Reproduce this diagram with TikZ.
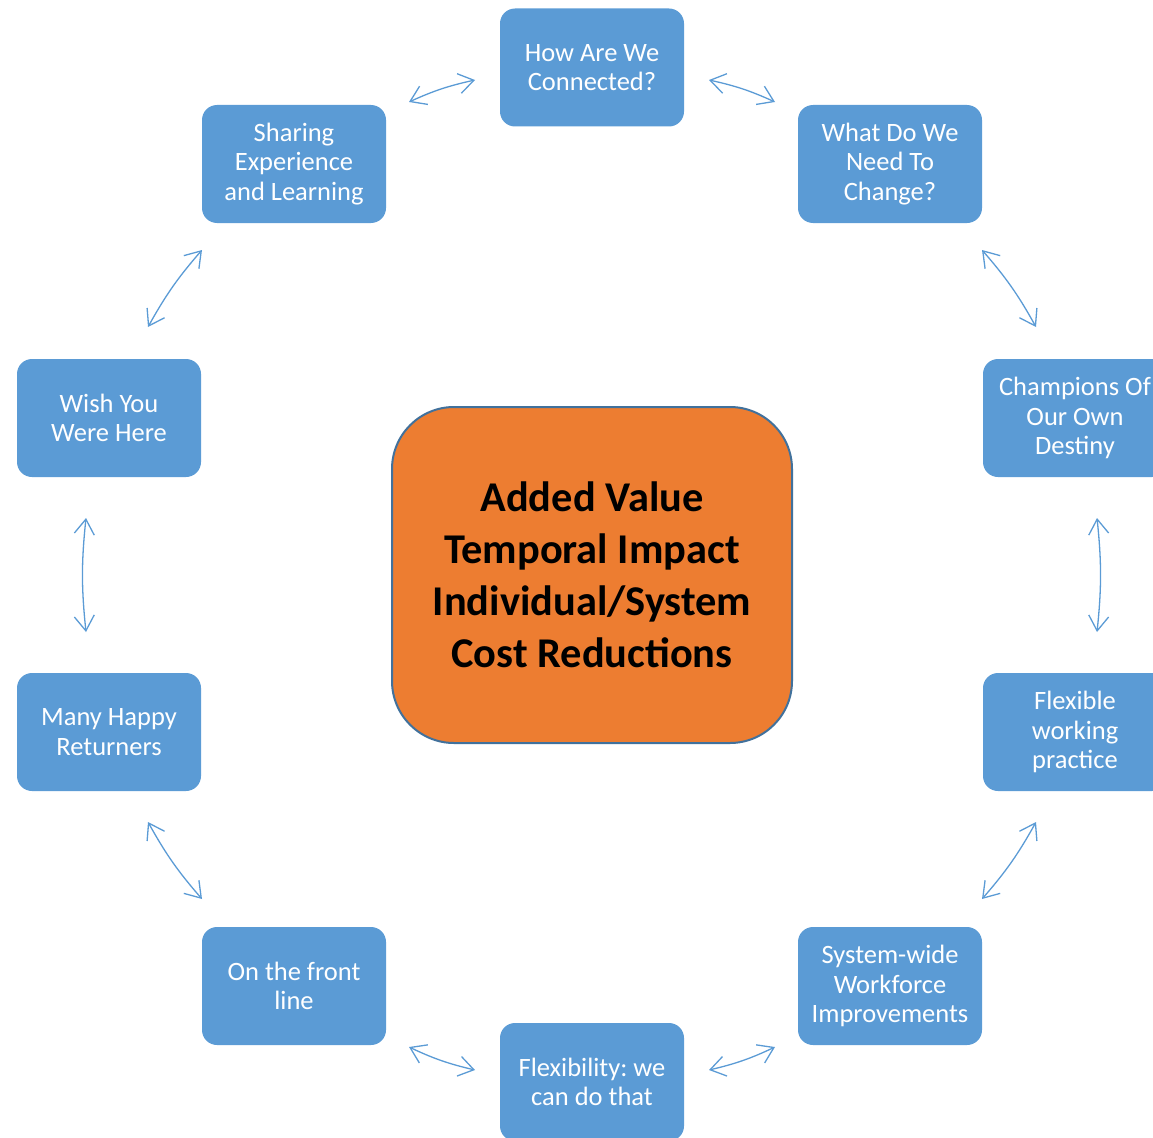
\documentclass[tikz,border=0pt]{standalone}
\usepackage{fontspec}
\setmainfont{Carlito}
\frenchspacing
\usetikzlibrary{arrows.meta}
\definecolor{boxblue}{HTML}{5B9BD5}
\definecolor{hub}{HTML}{ED7D31}
\definecolor{hubedge}{HTML}{41719C}
\begin{document}
\begin{tikzpicture}[x=1pt,y=-1pt,
  stage/.style={fill=boxblue, rounded corners=15pt, minimum width=184pt,
    minimum height=118pt, text=white, align=center, inner sep=0pt,
    font=\fontsize{26.5}{29.5}\selectfont},
  hubbox/.style={fill=hub, draw=hubedge, line width=2pt, rounded corners=62pt,
    minimum width=400pt, minimum height=336pt, align=center, inner sep=0pt,
    font=\fontsize{42.4}{52}\selectfont\bfseries},
  barb/.tip={Straight Barb[length=15pt,width=20pt]},
  link/.style={draw=boxblue, line width=1.3pt, barb-barb, bend left=6}
]
\useasboundingbox (0,0) rectangle (1153,1137);
\clip (0,0) rectangle (1153,1137);

% outer ring of stages
\node[stage] (how)   at (592,67.5) {How Are We\\Connected?};
\node[stage] (share) at (294,164)  {Sharing\\Experience\\and Learning};
\node[stage] (what)  at (890,164)  {What Do We\\Need To\\Change?};
\node[stage] (wish)  at (109,418)  {Wish You\\Were Here};
\node[stage] (champ) at (1075,418) {Champions Of\\Our Own\\Destiny};
\node[stage] (many)  at (109,732)  {Many Happy\\Returners};
\node[stage] (flexw) at (1075,732) {Flexible\\working\\practice};
\node[stage] (front) at (294,986)  {On the front\\line};
\node[stage] (sys)   at (890,986)  {System-wide\\Workforce\\Improvements};
\node[stage] (flexd) at (592,1082) {Flexibility: we\\can do that};

% central hub
\node[hubbox] (hub) at (592,575) {Added Value\\Temporal Impact\\Individual/System\\Cost Reductions};

% arrow end points between neighbouring stages
\coordinate (a1s) at (409,102);  \coordinate (a1e) at (475,80);
\coordinate (a2s) at (709,80);   \coordinate (a2e) at (775,102);
\coordinate (a3s) at (982,250);  \coordinate (a3e) at (1036,327);
\coordinate (a4s) at (1097,518); \coordinate (a4e) at (1097,632);
\coordinate (a5s) at (1036,822); \coordinate (a5e) at (982,899);
\coordinate (a6s) at (775,1047); \coordinate (a6e) at (709,1070);
\coordinate (a7s) at (475,1070); \coordinate (a7e) at (409,1047);
\coordinate (a8s) at (202,899);  \coordinate (a8e) at (148,822);
\coordinate (a9s) at (86,632);   \coordinate (a9e) at (86,518);
\coordinate (a10s) at (148,327); \coordinate (a10e) at (202,250);

\draw[link] (a1s) to (a1e);
\draw[link] (a2s) to (a2e);
\draw[link] (a3s) to (a3e);
\draw[link] (a4s) to (a4e);
\draw[link] (a5s) to (a5e);
\draw[link] (a6s) to (a6e);
\draw[link] (a7s) to (a7e);
\draw[link] (a8s) to (a8e);
\draw[link] (a9s) to (a9e);
\draw[link] (a10s) to (a10e);
\end{tikzpicture}
\end{document}
